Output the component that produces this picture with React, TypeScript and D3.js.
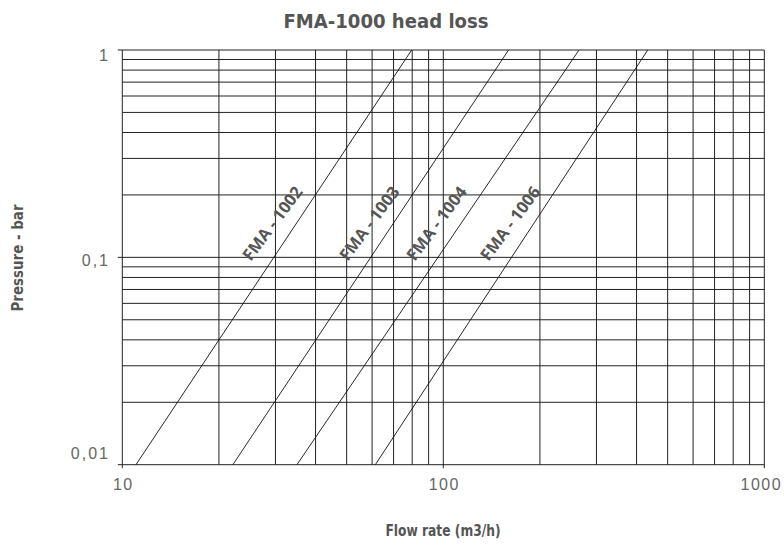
import React from "react";
import * as d3 from "d3";

const seriesNames = ["FMA - 1002", "FMA - 1003", "FMA - 1004", "FMA - 1006"];
// flow rate (m3/h) where each curve reaches 0.01 bar and 1 bar
const flowAtLowPressure = [11.03, 22.1, 35.0, 61.4];
const flowAtHighPressure = [79.7, 159.7, 264.7, 433.4];
const pressureEnds = [0.01, 1];

const xTickValues = [10, 100, 1000];
const xTickLabels = ["10", "100", "1000"];
const xTickLabelShift = [0, 0, -4];
const yTickValues = [1, 0.1, 0.01];
const yTickLabels = ["1", "0,1", "0,01"];
const yTickLabelShift = [7, 4, -10];

const xGridValues = [20, 30, 40, 50, 60, 70, 80, 90, 200, 300, 400, 500, 600, 700, 800, 900];
const yGridValues = [0.02, 0.03, 0.04, 0.05, 0.06, 0.07, 0.08, 0.09, 0.2, 0.3, 0.4, 0.5, 0.6, 0.7, 0.8, 0.9];
const labelPressure = 0.095;

const W = 784;
const H = 546;
const left = 122.3;
const right = 764.3;
const top = 50;
const bottom = 464.7;

export default function App() {
  const x = d3.scaleLog().domain([10, 1000]).range([left, right]);
  const y = d3.scaleLog().domain([0.01, 1]).range([bottom, top]);
  const line = d3
    .line<[number, number]>()
    .x((d) => x(d[0]))
    .y((d) => y(d[1]));

  const gridColor = "#222";
  const textGray = "#555";
  const narrow = "'DejaVu Sans Condensed', 'DejaVu Sans', sans-serif";

  return (
    <svg
      width={W}
      height={H}
      style={{ position: "absolute", left: 0, top: 0, display: "block", background: "#fff" }}
    >
      <text
        x={386}
        y={28}
        textAnchor="middle"
        fontFamily={narrow}
        fontWeight="bold"
        fontSize={19}
        fill={textGray}
        textLength={205}
        lengthAdjust="spacingAndGlyphs"
      >
        FMA-1000 head loss
      </text>

      {/* grid */}
      {yGridValues.map((v) => (
        <line key={"hy" + v} x1={left} x2={right} y1={y(v)} y2={y(v)} stroke={gridColor} strokeWidth={1} />
      ))}
      {xGridValues.map((v) => (
        <line key={"vx" + v} x1={x(v)} x2={x(v)} y1={top} y2={bottom} stroke={gridColor} strokeWidth={1} />
      ))}
      {/* decade lines / frame */}
      {yTickValues.map((v) => (
        <line key={"ty" + v} x1={left - 4.5} x2={right} y1={y(v)} y2={y(v)} stroke={gridColor} strokeWidth={1} />
      ))}
      {xTickValues.map((v) => (
        <line key={"tx" + v} x1={x(v)} x2={x(v)} y1={top} y2={bottom + 3.5} stroke={gridColor} strokeWidth={1} />
      ))}

      {/* series */}
      {seriesNames.map((name, i) => (
        <path
          key={name}
          d={line([
            [flowAtLowPressure[i], pressureEnds[0]],
            [flowAtHighPressure[i], pressureEnds[1]],
          ]) || ""}
          fill="none"
          stroke="#111"
          strokeWidth={0.9}
        />
      ))}

      {/* series labels */}
      {seriesNames.map((name, i) => {
        const t =
          (Math.log10(labelPressure) - Math.log10(pressureEnds[0])) /
          (Math.log10(pressureEnds[1]) - Math.log10(pressureEnds[0]));
        const lq =
          Math.log10(flowAtLowPressure[i]) +
          t * (Math.log10(flowAtHighPressure[i]) - Math.log10(flowAtLowPressure[i]));
        const px = x(Math.pow(10, lq)) - 20;
        const py = y(labelPressure);
        return (
          <text
            key={"lab" + name}
            transform={`translate(${px},${py}) rotate(-53)`}
            fontFamily="'Open Sans', 'Noto Sans', sans-serif"
            fontWeight="bold"
            fontSize={16.5}
            fill={textGray}
          >
            {name}
          </text>
        );
      })}

      {/* tick labels */}
      {yTickValues.map((v, i) => (
        <text
          key={"yl" + v}
          x={110}
          y={y(v) + yTickLabelShift[i]}
          dominantBaseline="middle"
          textAnchor="end"
          fontFamily="'Liberation Sans', Arial, sans-serif"
          fontSize={16}
          letterSpacing={2}
          fill="#666"
        >
          {yTickLabels[i]}
        </text>
      ))}
      {xTickValues.map((v, i) => (
        <text
          key={"xl" + v}
          x={x(v) + 1 + xTickLabelShift[i]}
          y={490}
          textAnchor="middle"
          fontFamily="'Liberation Sans', Arial, sans-serif"
          fontSize={16}
          letterSpacing={1.5}
          fill="#666"
        >
          {xTickLabels[i]}
        </text>
      ))}

      {/* axis titles */}
      <text
        x={443}
        y={536}
        textAnchor="middle"
        fontFamily={narrow}
        fontWeight="bold"
        fontSize={15}
        fill={textGray}
        textLength={115}
        lengthAdjust="spacingAndGlyphs"
      >
        Flow rate (m3/h)
      </text>
      <text
        transform="translate(23,258) rotate(-90)"
        textAnchor="middle"
        fontFamily={narrow}
        fontWeight="bold"
        fontSize={15}
        fill={textGray}
        textLength={107}
        lengthAdjust="spacingAndGlyphs"
      >
        Pressure - bar
      </text>
    </svg>
  );
}
